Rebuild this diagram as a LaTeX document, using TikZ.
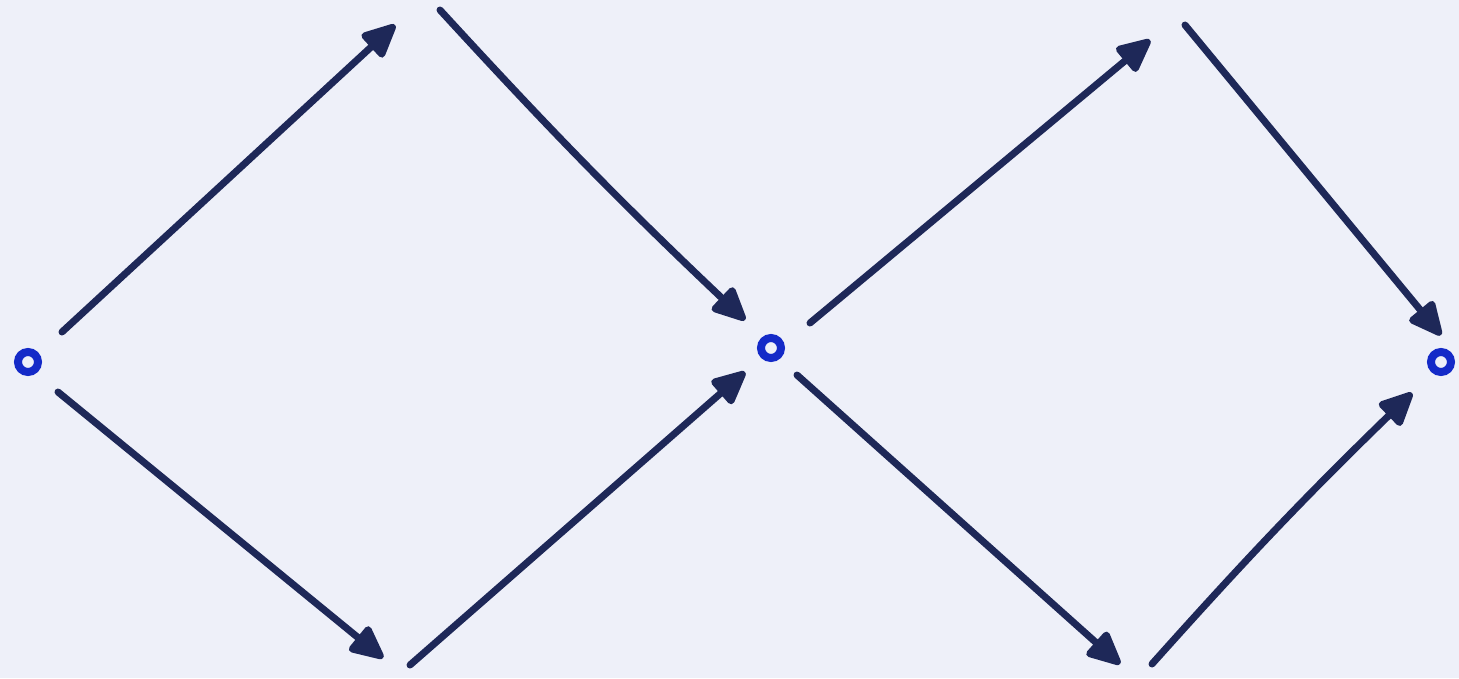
\documentclass[tikz,border=0pt]{standalone}
\usepackage{tikz}
\usetikzlibrary{arrows.meta,positioning,calc}
\definecolor{ink}{RGB}{30,40,88}
\definecolor{marker}{RGB}{20,42,200}
\definecolor{paper}{RGB}{238,240,249}

\begin{document}
\begin{tikzpicture}[x=0.01cm,y=-0.01cm,
	pen/.style={draw=ink,line width=0.07cm,line cap=round,-{Triangle[length=0.38cm,width=0.34cm,round]}},
	ring/.style={circle,draw=marker,line width=0.08cm,minimum size=0.2cm,inner sep=0pt}]
	\fill[paper] (0,0) rectangle (1459,678);
	\useasboundingbox (0,0) rectangle (1459,678);
	% the three points
	\node[ring] (p1) at (28,362) {};
	\node[ring] (p2) at (771,348) {};
	\node[ring] (p3) at (1441,362) {};
	% free ends of the arrows
	\coordinate (a1) at (62,332);   \coordinate (b1) at (395,25);
	\coordinate (a2) at (440,10);   \coordinate (b2) at (745,320);
	\coordinate (a3) at (58,392);   \coordinate (b3) at (383,658);
	\coordinate (a4) at (410,665);  \coordinate (b4) at (745,372);
	\coordinate (a5) at (810,323);  \coordinate (b5) at (1150,40);
	\coordinate (a6) at (1185,25);  \coordinate (b6) at (1441,335);
	\coordinate (a7) at (797,375);  \coordinate (b7) at (1120,664);
	\coordinate (a8) at (1152,664); \coordinate (b8) at (1412,393);
	% first diamond
	\draw[pen] (a1) -- (b1);
	\draw[pen] (a2) to[bend right=2] (b2);
	\draw[pen] (a3) -- (b3);
	\draw[pen] (a4) -- (b4);
	% second diamond
	\draw[pen] (a5) -- (b5);
	\draw[pen] (a6) -- (b6);
	\draw[pen] (a7) -- (b7);
	\draw[pen] (a8) to[bend left=2] (b8);
\end{tikzpicture}
\end{document}
